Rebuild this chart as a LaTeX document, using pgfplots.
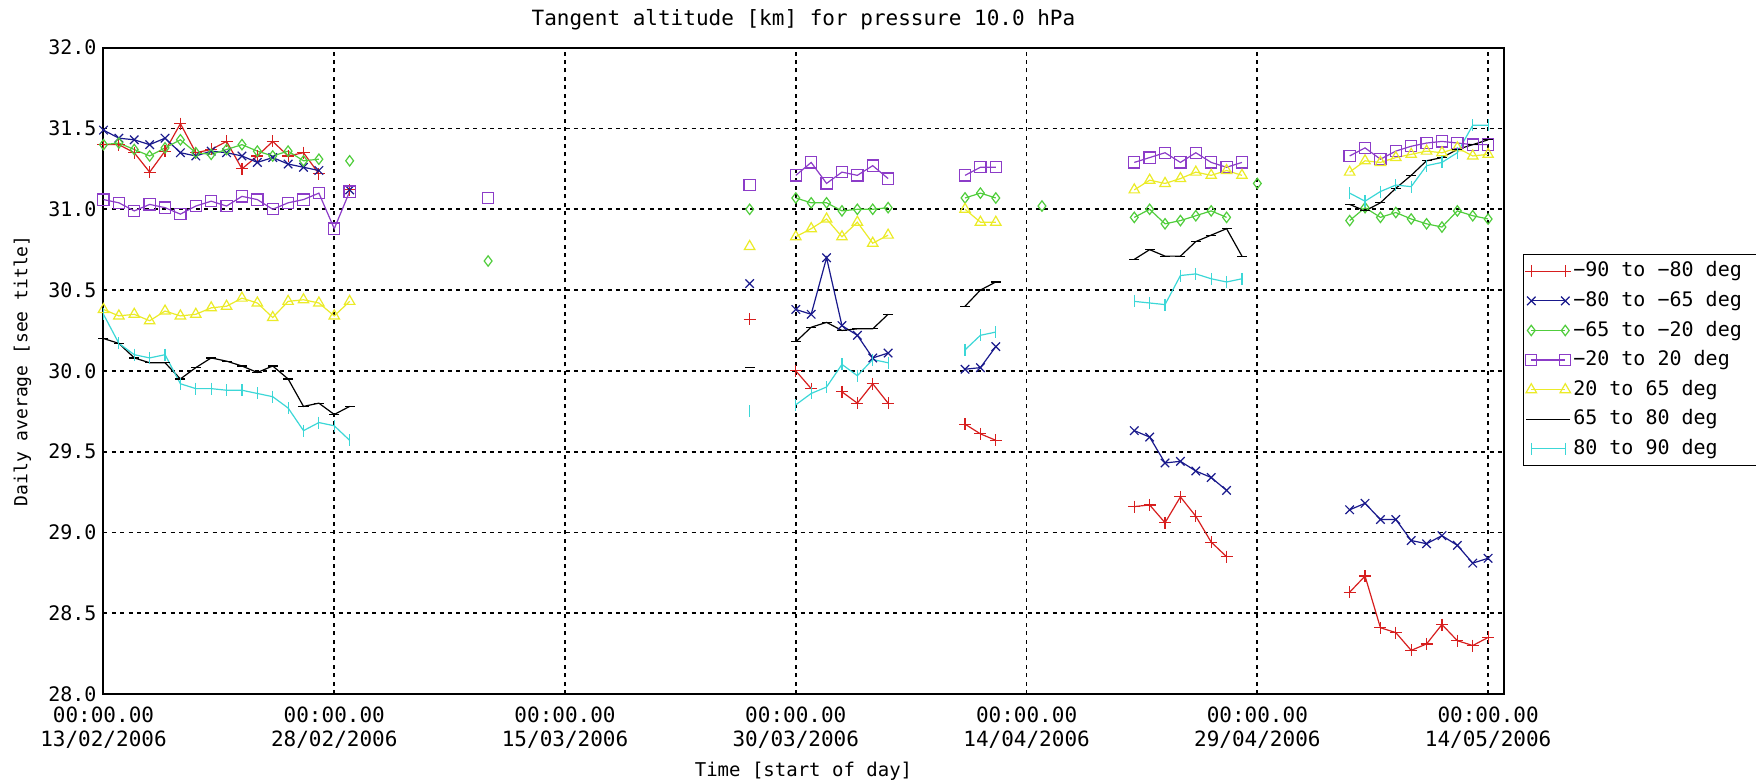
\documentclass[border=0pt]{standalone}
\usepackage{pgfplots}
\pgfplotsset{compat=1.18}
\usepackage{fontspec}
\setmainfont{DejaVu Sans Mono}
\definecolor{cred}{RGB}{215,30,30}
\definecolor{cblue}{RGB}{25,25,140}
\definecolor{cgreen}{RGB}{80,205,60}
\definecolor{cpurple}{RGB}{140,60,200}
\definecolor{cyellow}{RGB}{235,235,40}
\definecolor{ccyan}{RGB}{60,215,215}
\begin{document}
\begin{tikzpicture}
\begin{axis}[
  scale only axis, width=700pt, height=323.15pt,
  xmin=0, xmax=91, ymin=28, ymax=32,
  unbounded coords=jump,
  /pgf/number format/assume math mode=true,
  xtick={0,15,30,45,60,75,90},
  xticklabels={{00:00.00\\13/02/2006},{00:00.00\\28/02/2006},{00:00.00\\15/03/2006},{00:00.00\\30/03/2006},{00:00.00\\14/04/2006},{00:00.00\\29/04/2006},{00:00.00\\14/05/2006}},
  xticklabel style={align=center, anchor=center, yshift=-17pt, font=\fontsize{10.5}{12}\selectfont},
  ytick={28,28.5,29,29.5,30,30.5,31,31.5,32},
  yticklabel style={font=\fontsize{10}{12}\selectfont, /pgf/number format/fixed, /pgf/number format/fixed zerofill, /pgf/number format/precision=1},
  grid=major,
  major grid style={black, line width=0.9pt, dash pattern=on 2pt off 2.2pt},
  major tick length=0pt,
  axis line style={line width=1pt},
  title={Tangent altitude [km] for pressure 10.0 hPa},
  every axis title/.style={at={(axis description cs:0.5,1.0427)}, anchor=center, inner sep=0pt, font=\fontsize{10.5}{12}\selectfont},
  xlabel={Time [start of day]},
  xlabel style={at={(axis description cs:0.5,-0.1191)}, anchor=center, font=\fontsize{9.5}{12}\selectfont},
  ylabel={Daily average [see title]},
  ylabel style={at={(axis description cs:-0.0579,0.5)}, anchor=center, font=\fontsize{9}{12}\selectfont},
  legend style={at={(axis description cs:1.0137,0.681)}, anchor=north west, draw=black, line width=0.6pt,
    font=\fontsize{10}{12}\selectfont, inner sep=1pt, row sep=0pt,
    nodes={inner ysep=2.2pt, inner xsep=1pt, text height=8pt, text depth=2.4pt}},
  legend cell align=left,
  legend image code/.code={\draw[#1] plot coordinates {(0pt,0pt) (17pt,0pt)};},
  every axis plot/.append style={line width=0.6pt, mark options={solid, line width=0.6pt}},
]
% -90 to -80
\addplot[cred, mark=+, mark size=3pt] coordinates {
(0,31.40)(1,31.40)(2,31.35)(3,31.23)(4,31.36)(5,31.53)(6,31.35)(7,31.37)(8,31.42)(9,31.25)(10,31.33)(11,31.42)(12,31.33)(13,31.35)(14,31.22)(15,nan)
(16,31.12)(17,nan)
(42,30.32)(43,nan)
(45,30.00)(46,29.89)(47,nan)(48,29.87)(49,29.80)(50,29.92)(51,29.80)(52,nan)
(56,29.67)(57,29.61)(58,29.57)(59,nan)
(67,29.16)(68,29.17)(69,29.06)(70,29.22)(71,29.10)(72,28.94)(73,28.85)(74,nan)
(81,28.63)(82,28.73)(83,28.41)(84,28.38)(85,28.27)(86,28.31)(87,28.43)(88,28.33)(89,28.30)(90,28.35)};
\addlegendentry{\makebox[96pt][l]{−90 to −80 deg}}
% -80 to -65
\addplot[cblue, mark=x, mark size=3pt] coordinates {
(0,31.49)(1,31.44)(2,31.43)(3,31.40)(4,31.44)(5,31.35)(6,31.33)(7,31.36)(8,31.35)(9,31.33)(10,31.29)(11,31.32)(12,31.28)(13,31.26)(14,31.24)(15,nan)
(16,31.12)(17,nan)
(42,30.54)(43,nan)
(45,30.38)(46,30.35)(47,30.70)(48,30.28)(49,30.22)(50,30.08)(51,30.11)(52,nan)
(56,30.01)(57,30.02)(58,30.15)(59,nan)
(67,29.63)(68,29.59)(69,29.43)(70,29.44)(71,29.38)(72,29.34)(73,29.26)(74,nan)
(81,29.14)(82,29.18)(83,29.08)(84,29.08)(85,28.95)(86,28.93)(87,28.98)(88,28.92)(89,28.81)(90,28.84)};
\addlegendentry{−80 to −65 deg}
% -65 to -20
\addplot[cgreen, mark=diamond, mark size=2.6pt] coordinates {
(0,31.40)(1,31.41)(2,31.37)(3,31.33)(4,31.38)(5,31.43)(6,31.35)(7,31.34)(8,31.37)(9,31.40)(10,31.36)(11,31.33)(12,31.36)(13,31.30)(14,31.31)(15,nan)
(16,31.30)(17,nan)
(25,30.68)(26,nan)
(42,31.00)(43,nan)
(45,31.07)(46,31.04)(47,31.04)(48,30.99)(49,31.00)(50,31.00)(51,31.01)(52,nan)
(56,31.07)(57,31.10)(58,31.07)(59,nan)
(61,31.02)(62,nan)
(67,30.95)(68,31.00)(69,30.91)(70,30.93)(71,30.96)(72,30.99)(73,30.95)(74,nan)
(75,31.16)(76,nan)
(81,30.93)(82,31.01)(83,30.95)(84,30.98)(85,30.94)(86,30.91)(87,30.89)(88,30.99)(89,30.96)(90,30.94)};
\addlegendentry{−65 to −20 deg}
% -20 to 20
\addplot[cpurple, mark=square, mark size=2.8pt] coordinates {
(0,31.06)(1,31.04)(2,30.99)(3,31.03)(4,31.01)(5,30.97)(6,31.02)(7,31.05)(8,31.02)(9,31.08)(10,31.06)(11,31.00)(12,31.04)(13,31.06)(14,31.10)(15,30.88)(16,31.11)(17,nan)
(25,31.07)(26,nan)
(42,31.15)(43,nan)
(45,31.21)(46,31.29)(47,31.16)(48,31.23)(49,31.21)(50,31.27)(51,31.19)(52,nan)
(56,31.21)(57,31.26)(58,31.26)(59,nan)
(67,31.29)(68,31.32)(69,31.35)(70,31.29)(71,31.35)(72,31.29)(73,31.26)(74,31.29)(75,nan)
(81,31.33)(82,31.38)(83,31.31)(84,31.36)(85,31.39)(86,31.41)(87,31.42)(88,31.41)(89,31.40)(90,31.40)};
\addlegendentry{−20 to 20 deg}
% 20 to 65
\addplot[cyellow, mark=triangle, mark size=3pt] coordinates {
(0,30.38)(1,30.34)(2,30.35)(3,30.31)(4,30.37)(5,30.34)(6,30.35)(7,30.39)(8,30.40)(9,30.45)(10,30.42)(11,30.33)(12,30.43)(13,30.44)(14,30.42)(15,30.34)(16,30.43)(17,nan)
(42,30.77)(43,nan)
(45,30.83)(46,30.88)(47,30.94)(48,30.83)(49,30.92)(50,30.79)(51,30.84)(52,nan)
(56,31.00)(57,30.92)(58,30.92)(59,nan)
(67,31.12)(68,31.18)(69,31.16)(70,31.19)(71,31.23)(72,31.21)(73,31.24)(74,31.21)(75,nan)
(81,31.23)(82,31.30)(83,31.29)(84,31.32)(85,31.34)(86,31.36)(87,31.35)(88,31.38)(89,31.33)(90,31.34)};
\addlegendentry{20 to 65 deg}
% 65 to 80
\addplot[black, mark=-, mark size=2.5pt] coordinates {
(0,30.20)(1,30.17)(2,30.08)(3,30.05)(4,30.05)(5,29.95)(6,30.02)(7,30.08)(8,30.06)(9,30.03)(10,29.99)(11,30.03)(12,29.95)(13,29.78)(14,29.80)(15,29.73)(16,29.78)(17,nan)
(42,30.02)(43,nan)
(45,30.18)(46,30.27)(47,30.30)(48,30.25)(49,30.26)(50,30.26)(51,30.35)(52,nan)
(56,30.40)(57,30.50)(58,30.55)(59,nan)
(67,30.69)(68,30.75)(69,30.71)(70,30.71)(71,30.80)(72,30.84)(73,30.88)(74,30.71)(75,nan)
(81,31.03)(82,30.99)(83,31.04)(84,31.13)(85,31.21)(86,31.30)(87,31.32)(88,31.37)(89,31.40)(90,31.43)};
\addlegendentry{65 to 80 deg}
% 80 to 90
\addplot[ccyan, mark=|, mark size=3pt] coordinates {
(0,30.35)(1,30.17)(2,30.10)(3,30.08)(4,30.10)(5,29.92)(6,29.89)(7,29.89)(8,29.88)(9,29.88)(10,29.86)(11,29.84)(12,29.77)(13,29.63)(14,29.68)(15,29.66)(16,29.57)(17,nan)
(42,29.75)(43,nan)
(45,29.79)(46,29.86)(47,29.90)(48,30.04)(49,29.97)(50,30.07)(51,30.05)(52,nan)
(56,30.13)(57,30.22)(58,30.24)(59,nan)
(67,30.43)(68,30.42)(69,30.41)(70,30.59)(71,30.60)(72,30.57)(73,30.55)(74,30.57)(75,nan)
(81,31.10)(82,31.05)(83,31.11)(84,31.15)(85,31.14)(86,31.27)(87,31.29)(88,31.35)(89,31.52)(90,31.52)};
\addlegendentry{80 to 90 deg}
\end{axis}
\pgfresetboundingbox
\path[use as bounding box] (-51.75pt,-43.85pt) rectangle (826.25pt,347pt);
\end{tikzpicture}
\end{document}
